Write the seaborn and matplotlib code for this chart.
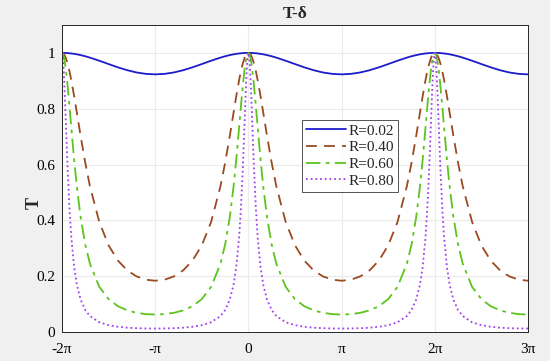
import numpy as np
import pandas as pd
import matplotlib
matplotlib.use("Agg")
import matplotlib.pyplot as plt
import seaborn as sns

# Half-period profile: offset from a peak (in units of pi)
offset_pi = [0, 0.01, 0.02, 0.03, 0.04, 0.06, 0.08, 0.10, 0.13, 0.16, 0.20,
             0.25, 0.30, 0.40, 0.50, 0.60, 0.70, 0.80, 0.90, 1.00]
T_R002 = [1.000, 1.000, 1.000, 1.000, 0.9997, 0.9993, 0.9987, 0.9980, 0.9966, 0.9949, 0.9921,
          0.9880, 0.9831, 0.9720, 0.9600, 0.9483, 0.9380, 0.9299, 0.9249, 0.9231]
T_R040 = [1.000, 0.9989, 0.9956, 0.9902, 0.9828, 0.9621, 0.9347, 0.9019, 0.8455, 0.7844, 0.7020,
          0.6057, 0.5219, 0.3944, 0.3103, 0.2558, 0.2208, 0.1992, 0.1874, 0.1837]
T_R060 = [1.000, 0.9963, 0.9854, 0.9678, 0.9442, 0.8827, 0.8093, 0.7315, 0.6185, 0.5188, 0.4111,
          0.3128, 0.2444, 0.1618, 0.1177, 0.0924, 0.0775, 0.0687, 0.0640, 0.0625]
T_R080 = [1.000, 0.9807, 0.9268, 0.8493, 0.7602, 0.5853, 0.4431, 0.3381, 0.2331, 0.1681, 0.1158,
          0.0786, 0.0572, 0.0349, 0.0244, 0.0187, 0.0155, 0.0136, 0.0127, 0.0124]
labels = ["R=0.02", "R=0.40", "R=0.60", "R=0.80"]
peaks_pi = [-2, 0, 2]          # peak positions (units of pi), curves repeat
x_min_pi, x_max_pi = -2, 3
xtick_labels = ["-2\u03c0", "-\u03c0", "0", "\u03c0", "2\u03c0", "3\u03c0"]
ytick_labels = ["0", "0.2", "0.4", "0.6", "0.8", "1"]

colors = ["#1c1ccc", "#9a4a20", "#5cc41c", "#a040ee"]
styles = ["-", (0, (6, 4)), (0, (8, 3, 2, 3)), (0, (1, 1.6))]

rows = []
for lab, prof in zip(labels, [T_R002, T_R040, T_R060, T_R080]):
    xs, ys = [], []
    for p in peaks_pi:
        for side in (-1, 1):
            for u, v in zip(offset_pi, prof):
                xs.append(p + side * u)
                ys.append(v)
    pts = sorted(set((round(x, 6), y) for x, y in zip(xs, ys) if x_min_pi <= x <= x_max_pi))
    for x, y in pts:
        rows.append({"delta": x * np.pi, "T": y, "R": lab})
df = pd.DataFrame(rows)

sns.set_style("white")
plt.rcParams["font.family"] = ["Liberation Serif", "DejaVu Serif"]

fig = plt.figure(figsize=(5.5, 3.61), dpi=100, facecolor="#f0f0f0")
ax = fig.add_axes([62/550, 1 - 332/361, (528-62)/550, (332-25)/361])
ax.set_facecolor("white")

for lab, c, ls in zip(labels, colors, styles):
    sub = df[df["R"] == lab]
    sns.lineplot(data=sub, x="delta", y="T", ax=ax, color=c, linestyle=ls,
                 linewidth=1.3, label=lab, sort=True, estimator=None)

ax.set_xlim(x_min_pi * np.pi, x_max_pi * np.pi)
ax.set_ylim(0, 1.1)
ax.set_xticks([k * np.pi for k in range(-2, 4)])
ax.set_xticklabels(xtick_labels)
ax.set_yticks([0, 0.2, 0.4, 0.6, 0.8, 1.0])
ax.set_yticklabels(ytick_labels)
ax.grid(True, color="#ebebeb", linewidth=0.8)
for s in ax.spines.values():
    s.set_color("#262626")
    s.set_linewidth(0.7)
ax.tick_params(labelsize=11, length=3, direction="in", colors="#262626", labelcolor="black")
ax.tick_params(axis="x", pad=8)
ax.tick_params(axis="y", pad=5)
ax.set_xlabel("")
ax.set_ylabel("T", fontsize=13, fontweight="bold")
ax.yaxis.set_label_coords(-(62 - 43) / 466, 0.42)
ax.set_title("T-\u03b4", fontsize=12.5, fontweight="bold", pad=5)

leg = ax.legend(loc="upper left", bbox_to_anchor=((302-62)/466, 1 - (120-25)/307),
                fontsize=11, frameon=True, fancybox=False, handlelength=2.6,
                handletextpad=0.2, borderpad=0.25, labelspacing=0.2, borderaxespad=0)
leg.get_frame().set_edgecolor("#262626")
leg.get_frame().set_linewidth(0.7)

fig.savefig("out.png", dpi=100, facecolor=fig.get_facecolor())
